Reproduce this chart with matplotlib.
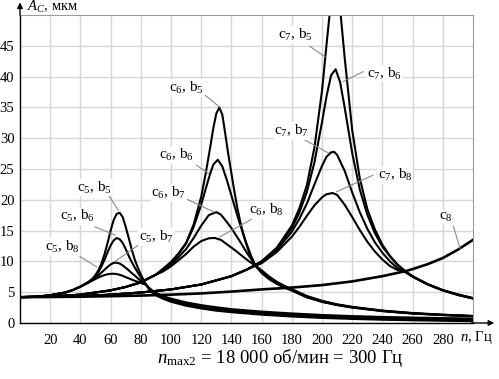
import matplotlib
matplotlib.use('Agg')
import matplotlib.pyplot as plt

plt.rcParams['font.family'] = ['Liberation Serif', 'DejaVu Serif']
plt.rcParams['mathtext.fontset'] = 'custom'
plt.rcParams['mathtext.rm'] = 'Liberation Serif'
plt.rcParams['mathtext.it'] = 'Liberation Serif:italic'

##################################
####     Data (read off)      ####
##################################

# c5 family, resonance ~65 Hz
n_c5_b5 = [0, 10, 20, 30, 35, 40, 45, 48, 50, 52, 54, 56, 58, 60, 62, 64, 66, 68, 70, 72, 74, 76, 78, 80, 82, 83.5,
           86, 88, 90, 95, 100, 110, 120, 130, 140, 160, 180, 200, 220, 240, 260, 280, 300]
A_c5_b5 = [4.2, 4.25, 4.5, 4.95, 5.35, 5.9, 6.6, 7.2, 7.8, 8.6, 9.7, 11.2, 13.0, 15.0, 16.7, 17.7, 17.9, 17.2, 15.6,
           13.8, 11.9, 10.3, 9.0, 7.9, 6.9, 6.2,
           5.3, 4.85, 4.5, 3.9, 3.45, 2.8, 2.35, 2.0, 1.75, 1.35, 1.05, 0.82, 0.66, 0.53, 0.44, 0.36, 0.3]
n_c5_b6 = [0, 10, 20, 30, 35, 40, 45, 48, 50, 52, 54, 56, 58, 60, 62, 64, 66, 68, 70, 72, 74, 76, 78, 80, 82, 83.5,
           86, 88, 90, 95, 100, 110, 120, 130, 140, 160, 180, 200, 220, 240, 260, 280, 300]
A_c5_b6 = [4.2, 4.25, 4.5, 4.95, 5.35, 5.9, 6.6, 7.1, 7.6, 8.3, 9.2, 10.3, 11.5, 12.6, 13.4, 13.8, 13.6, 13.0, 12.0,
           10.9, 9.9, 9.0, 8.2, 7.4, 6.7, 6.2,
           5.4, 5.0, 4.65, 4.05, 3.6, 2.95, 2.5, 2.15, 1.9, 1.5, 1.2, 0.97, 0.8, 0.68, 0.58, 0.5, 0.44]
n_c5_b7 = [0, 10, 20, 30, 35, 40, 45, 48, 50, 52, 54, 56, 58, 60, 62, 63.5, 66, 68, 70, 72, 74, 76, 78, 80, 82, 83.5,
           86, 88, 90, 95, 100, 110, 120, 130, 140, 160, 180, 200, 220, 240, 260, 280, 300]
A_c5_b7 = [4.2, 4.25, 4.5, 4.95, 5.35, 5.9, 6.55, 6.95, 7.3, 7.75, 8.2, 8.65, 9.1, 9.5, 9.75, 9.8, 9.65, 9.35, 8.95,
           8.55, 8.1, 7.7, 7.25, 6.85, 6.5, 6.2,
           5.5, 5.1, 4.75, 4.2, 3.75, 3.1, 2.65, 2.3, 2.05, 1.65, 1.35, 1.1, 0.94, 0.82, 0.72, 0.64, 0.57]
n_c5_b8 = [0, 10, 20, 30, 35, 40, 45, 48, 50, 52, 54, 56, 58, 61, 64, 67, 70, 73, 76, 80, 83.5,
           86, 88, 90, 95, 100, 110, 120, 130, 140, 160, 180, 200, 220, 240, 260, 280, 300]
A_c5_b8 = [4.2, 4.25, 4.5, 4.95, 5.35, 5.9, 6.5, 6.9, 7.15, 7.4, 7.6, 7.78, 7.92, 8.0, 7.95, 7.75, 7.45, 7.15, 6.85,
           6.5, 6.2,
           5.6, 5.2, 4.9, 4.35, 3.95, 3.35, 2.9, 2.55, 2.25, 1.85, 1.55, 1.3, 1.12, 0.98, 0.88, 0.8, 0.72]

# c6 family, resonance ~130 Hz
n_c6_b5 = [0, 20, 40, 60, 70, 80, 90, 95, 100, 105, 110, 115, 120, 123, 126, 128, 130, 132, 134, 136, 138, 140,
           142, 144, 146, 148, 150, 152, 154, 156, 160, 165, 170, 175, 180, 190, 200, 210, 220, 240, 260, 280, 300]
A_c6_b5 = [4.2, 4.3, 4.6, 5.3, 5.85, 6.6, 7.85, 8.85, 9.9, 11.3, 13.0, 16.0, 20.5, 24.3, 28.6, 31.6, 34.0, 35.0,
           33.8, 30.6, 27.3, 24.3, 21.3, 18.6, 16.3, 14.3, 12.7, 11.3, 10.2, 9.3,
           8.1, 7.1, 6.35, 5.75, 5.25, 4.15, 3.42, 2.9, 2.5, 1.92, 1.53, 1.28, 1.08]
n_c6_b6 = [0, 20, 40, 60, 70, 80, 90, 95, 100, 105, 110, 115, 120, 123, 126, 128, 131, 134, 137, 140, 143, 146,
           150, 153, 156, 160, 165, 170, 175, 180, 190, 200, 210, 220, 240, 260, 280, 300]
A_c6_b6 = [4.2, 4.3, 4.6, 5.3, 5.85, 6.6, 7.85, 8.8, 9.85, 11.2, 12.9, 15.6, 19.2, 21.8, 24.3, 25.7, 26.5, 25.4,
           23.2, 20.7, 18.2, 15.8, 12.9, 10.9, 9.3,
           8.25, 7.25, 6.45, 5.85, 5.32, 4.22, 3.48, 2.94, 2.54, 1.95, 1.55, 1.3, 1.1]
n_c6_b7 = [0, 20, 40, 60, 70, 80, 90, 95, 100, 105, 110, 115, 120, 125, 130, 133, 136, 140, 145, 150, 153, 156,
           160, 165, 170, 175, 180, 190, 200, 210, 220, 240, 260, 280, 300]
A_c6_b7 = [4.2, 4.3, 4.6, 5.3, 5.85, 6.6, 7.85, 8.6, 9.5, 10.7, 12.0, 13.8, 15.8, 17.5, 18.0, 17.6, 16.7, 15.4,
           13.5, 11.5, 10.4, 9.3,
           8.4, 7.4, 6.55, 5.95, 5.4, 4.3, 3.54, 2.98, 2.58, 1.98, 1.58, 1.32, 1.12]
n_c6_b8 = [0, 20, 40, 60, 70, 80, 90, 95, 100, 105, 110, 115, 120, 125, 129, 133, 138, 143, 148, 152, 156,
           160, 165, 170, 175, 180, 190, 200, 210, 220, 240, 260, 280, 300]
A_c6_b8 = [4.2, 4.3, 4.6, 5.3, 5.85, 6.6, 7.85, 8.4, 9.2, 10.2, 11.2, 12.4, 13.3, 13.75, 13.8, 13.5, 12.6, 11.7,
           10.7, 9.95, 9.3,
           8.55, 7.55, 6.7, 6.05, 5.5, 4.38, 3.6, 3.03, 2.62, 2.02, 1.62, 1.35, 1.15]

# c7 family, resonance ~208 Hz
n_c7_b5 = [0, 20, 40, 60, 80, 100, 120, 140, 150, 160, 170, 180, 185, 190, 195, 200, 203, 206, 209, 212, 215, 220,
           225, 230, 235, 240, 245, 250, 255, 260, 270, 280, 290, 300]
A_c7_b5 = [4.2, 4.25, 4.35, 4.6, 4.95, 5.45, 6.25, 7.6, 8.65, 10.0, 12.2, 15.8, 18.6, 22.4, 28.5, 37.7, 45.2, 52.4,
           55.3, 51.0, 43.1, 31.3, 23.5, 18.5, 15.2, 12.7, 10.9, 9.5, 8.45, 7.6, 6.3, 5.3, 4.55, 3.96]
n_c7_b6 = [0, 20, 40, 60, 80, 100, 120, 140, 150, 160, 170, 180, 185, 190, 195, 200, 203, 206, 209, 212, 215, 220,
           225, 230, 235, 240, 245, 250, 255, 260, 270, 280, 290, 300]
A_c7_b6 = [4.2, 4.25, 4.35, 4.6, 4.95, 5.45, 6.25, 7.6, 8.65, 10.0, 12.1, 15.4, 17.9, 21.3, 26.1, 32.6, 36.8, 40.2,
           41.2, 39.1, 35.0, 27.6, 21.7, 17.6, 14.6, 12.4, 10.8, 9.4, 8.4, 7.55, 6.25, 5.3, 4.55, 3.98]
n_c7_b7 = [0, 20, 40, 60, 80, 100, 120, 140, 150, 160, 170, 180, 185, 190, 195, 200, 203, 206, 208, 210, 215, 220,
           225, 230, 235, 240, 245, 250, 255, 260, 270, 280, 290, 300]
A_c7_b7 = [4.2, 4.25, 4.35, 4.6, 4.95, 5.45, 6.25, 7.6, 8.65, 9.9, 11.85, 14.8, 16.9, 19.4, 22.5, 25.5, 27.0, 27.7,
           27.8, 27.3, 24.7, 21.2, 18.0, 15.3, 13.1, 11.4, 10.0, 8.9, 8.3, 7.5, 6.25, 5.3, 4.6, 4.02]
n_c7_b8 = [0, 20, 40, 60, 80, 100, 120, 140, 150, 160, 170, 180, 185, 190, 195, 200, 203, 207, 210, 215, 220,
           225, 230, 235, 240, 245, 250, 255, 260, 270, 280, 290, 300]
A_c7_b8 = [4.2, 4.25, 4.35, 4.6, 4.95, 5.45, 6.25, 7.6, 8.65, 9.7, 11.5, 14.0, 15.6, 17.4, 19.1, 20.4, 20.9, 21.1,
           20.8, 19.2, 17.2, 15.1, 13.2, 11.6, 10.3, 9.25, 8.6, 8.3, 7.55, 6.3, 5.35, 4.65, 4.05]

# c8, resonance above 300 Hz
n_c8 = [0, 20, 40, 60, 80, 100, 120, 140, 160, 180, 200, 220, 240, 255, 260, 270, 280, 290, 300]
A_c8 = [4.2, 4.22, 4.27, 4.35, 4.45, 4.6, 4.8, 5.1, 5.45, 5.75, 6.15, 6.75, 7.6, 8.4, 8.75, 9.55, 10.55, 11.9, 13.5]

curves = [
    (n_c5_b5, A_c5_b5), (n_c5_b6, A_c5_b6), (n_c5_b7, A_c5_b7), (n_c5_b8, A_c5_b8),
    (n_c6_b5, A_c6_b5), (n_c6_b6, A_c6_b6), (n_c6_b7, A_c6_b7), (n_c6_b8, A_c6_b8),
    (n_c7_b5, A_c7_b5), (n_c7_b6, A_c7_b6), (n_c7_b7, A_c7_b7), (n_c7_b8, A_c7_b8),
]

# labels: text, text position, leader start, leader end
labels = [r'c$_5$, b$_5$', r'c$_5$, b$_6$', r'c$_5$, b$_7$', r'c$_5$, b$_8$',
          r'c$_6$, b$_5$', r'c$_6$, b$_6$', r'c$_6$, b$_7$', r'c$_6$, b$_8$',
          r'c$_7$, b$_5$', r'c$_7$, b$_6$', r'c$_7$, b$_7$', r'c$_7$, b$_8$', r'c$_8$']
label_x = [49, 38, 90.5, 28, 110.5, 103.5, 98.5, 163, 182.5, 241.5, 180, 248.5, 282]
label_y = [22.0, 17.3, 14.0, 12.3, 38.1, 27.2, 21.1, 18.3, 46.8, 40.5, 31.2, 24.0, 17.2]
lead_x0 = [58.5, 49.7, 81.7, 39.7, 122.5, 117.0, 110.6, 154.5, 192.0, 227.2, 188.7, 233.8, 287.0]
lead_y0 = [20.8, 15.6, 13.2, 10.8, 37.0, 25.6, 20.1, 17.0, 44.9, 40.8, 29.7, 24.0, 15.7]
lead_x1 = [65.1, 62.9, 62.9, 50.8, 132.5, 124.7, 128.5, 132.5, 202.0, 214.1, 204.2, 209.7, 291.4]
lead_y1 = [18.3, 14.3, 10.0, 9.1, 35.0, 24.3, 18.0, 14.0, 43.2, 39.2, 27.6, 21.3, 12.1]

x_ticks = list(range(20, 300, 20))
y_ticks = list(range(0, 50, 5))

##################################
####          Plot            ####
##################################

fig = plt.figure(figsize=(4.99, 3.79), dpi=100)
ax = fig.add_axes([0.0401, 0.1478, 0.9078, 0.8126])

for n, A in curves:
    ax.plot(n, A, color='black', lw=1.5, solid_joinstyle='round')
ax.plot(n_c8, A_c8, color='black', lw=1.9)

for i in range(len(labels)):
    ax.plot([lead_x0[i], lead_x1[i]], [lead_y0[i], lead_y1[i]], color='#8a8a8a', lw=0.8)
    ax.text(label_x[i], label_y[i], labels[i], ha='center', va='center', fontsize=11,
            bbox=dict(facecolor='white', edgecolor='none', pad=0.5))

ax.set_xlim(0, 300)
ax.set_ylim(0, 50)
ax.set_xticks(x_ticks)
ax.set_yticks(y_ticks)
ax.grid(True, color='#d6d6d6', lw=1.0)
ax.set_axisbelow(True)
ax.tick_params(length=0, labelsize=10.5)
ax.tick_params(axis='x', pad=8)
ax.tick_params(axis='y', pad=4)

for s in ['top', 'right']:
    ax.spines[s].set_color('#9a9a9a')
for s in ['left', 'bottom']:
    ax.spines[s].set_color('black')
    ax.spines[s].set_linewidth(1.0)

# axis arrows
ax.annotate('', xy=(1.053, 0), xytext=(0.99, 0), xycoords='axes fraction',
            arrowprops=dict(arrowstyle='-|>', color='black', lw=1.0, mutation_scale=8))
ax.annotate('', xy=(0, 1.05), xytext=(0, 0.99), xycoords='axes fraction',
            arrowprops=dict(arrowstyle='-|>', color='black', lw=1.0, mutation_scale=8))

ax.text(1.007, -0.048, r'$n$, Гц', transform=ax.transAxes, ha='center', va='center', fontsize=10.5)
ax.text(0.073, 1.026, r'$A_C$, мкм', transform=ax.transAxes, ha='center', va='center', fontsize=10.5)

fig.text(0.561, 0.055, r'$n_{\mathrm{max2}}$ = 18 000 об/мин = 300 Гц', ha='center', va='center', fontsize=13.5)

fig.savefig('out.png', dpi=100)
